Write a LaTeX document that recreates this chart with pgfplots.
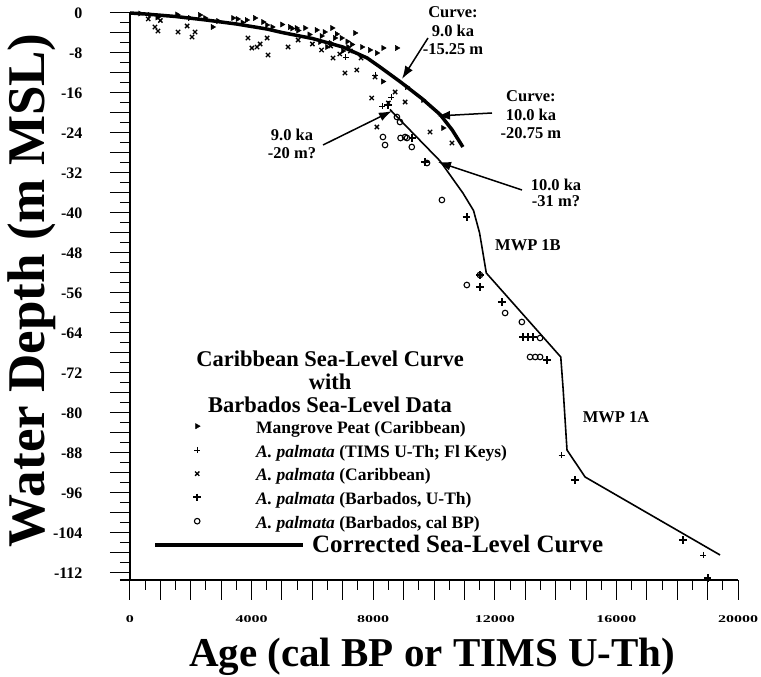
\documentclass[border=0pt]{standalone}
\usepackage{fontspec}
\setmainfont{Liberation Serif}
\usepackage{graphicx}
\usepackage{pgfplots}
\pgfplotsset{compat=1.18}
\usetikzlibrary{arrows.meta}
\newcommand\xt[1]{\scalebox{1}[0.65]{#1}}
\newcommand\ann{\bfseries\fontsize{16.5}{18.5}\selectfont}
\begin{document}
\begin{tikzpicture}
\begin{axis}[
 scale only axis, width=608pt, height=567pt,
 xmin=0, xmax=20000, ymin=-113.4, ymax=0,
 axis x line=bottom, axis y line=left,
 x axis line style={-, line width=1.2pt, shorten <=-10pt},
 y axis line style={-, line width=1.2pt},
 tick align=outside,
 major tick length=20pt, minor tick length=10pt,
 tick style={black, line width=1pt},
 xtick={0,1000,...,20000},
 xticklabels={\xt{0},,,,\xt{4000},,,,\xt{8000},,,,\xt{12000},,,,\xt{16000},,,,\xt{20000}},
 minor x tick num=1,
 ytick={-112,-108,...,0},
 yticklabels={-112,,-104,,-96,,-88,,-80,,-72,,-64,,-56,,-48,,-40,,-32,,-24,,-16,,-8,,0},
 minor y tick num=1,
 xticklabel style={font=\bfseries\fontsize{16}{16}\selectfont, yshift=-12pt},
 yticklabel style={font=\bfseries\fontsize{16}{16}\selectfont, anchor=east, xshift=-24pt},
 scaled x ticks=false,
 clip=false,
 xlabel={Age (cal BP or TIMS U-Th)},
 xlabel style={at={(axis description cs:0.497,-0.136)}, anchor=center, font=\bfseries\fontsize{41}{41}\selectfont},
 ylabel={Water Depth (m MSL)},
 ylabel style={at={(axis description cs:-0.161,0.511)}, anchor=center, font=\bfseries\fontsize{53}{53}\selectfont},
 legend cell align=left,
 legend style={at={(rel axis cs:0.0411,0.2875)}, anchor=north west, draw=none, fill=none,
   inner sep=0pt, row sep=0pt,
   nodes={inner sep=0pt, text height=16pt, text depth=7.5pt},
   font=\bfseries\fontsize{17.5}{17.5}\selectfont},
]
\pgfplotsset{mk/.style={legend image code/.code={\draw[##1] plot coordinates {(0pt,3pt)}; \path[draw=none,fill=none] (-42pt,0pt) rectangle (59pt,12pt);}}}
% Mangrove peat
\addplot[only marks, mk, mark=triangle*, mark size=3pt, mark options={rotate=-90, fill=black}] coordinates {
(330,-0.1) (650,-0.4) (900,-0.9) (1550,-0.3) (1970,-1.0) (2300,-0.4) (2470,-1.0) (2720,-2.8) (2900,-1.6)
(3390,-1.0) (3540,-1.2) (3700,-1.9) (3840,-1.4) (4110,-1.0) (4380,-1.8) (4500,-2.4) (4680,-2.8) (5000,-2.3)
(5260,-2.8) (5330,-3.1) (5480,-3.0) (5530,-3.5) (5760,-3.0) (5900,-4.3) (6140,-3.4) (6250,-5.8) (6300,-4.6)
(6400,-3.8) (6480,-6.8) (6650,-3.0) (6740,-5.0) (6800,-4.2) (6960,-5.0) (7150,-5.7) (7170,-6.8) (7300,-6.3)
(7400,-4.0) (7630,-6.8) (7890,-7.4) (8120,-8.0) (8330,-7.0) (8780,-7.0) (8320,-13.7) (9110,-14.8) (9640,-17.4)
(10300,-23.0) (7000,-7.6) (6600,-6.0)
};
\addlegendentry{Mangrove Peat (Caribbean)}
% TIMS U-Th Fl Keys
\addplot[only marks, mk, mark=+, mark size=3pt, line width=0.8pt] coordinates {
(7100,-8.8) (8060,-12.4) (8600,-16.8) (8300,-18.6) (14200,-88.4) (18850,-108.4)
};
\addlegendentry{\textit{A. palmata} (TIMS U-Th; Fl Keys)}
% Caribbean A. palmata
\addplot[only marks, mk, mark=x, mark size=3pt, line width=1.3pt] coordinates {
(820,-2.8) (920,-3.6) (1580,-3.8) (1880,-2.6) (2040,-4.8) (2140,-3.8) (3880,-5.0) (4010,-7.0) (4180,-6.8)
(4280,-6.2) (4510,-5.0) (4540,-8.4) (5200,-6.8) (5530,-5.4) (6000,-6.2) (6300,-7.4) (6600,-6.6) (6680,-9.0)
(6900,-8.2) (7070,-12.0) (7250,-7.6) (7460,-11.4) (7600,-9.0) (8060,-12.8) (7950,-17.0) (8120,-22.8)
(8720,-15.8) (9050,-17.8) (8500,-18.0) (9870,-23.8) (10590,-26.0) (600,-1.2) (1000,-1.5)
};
\addlegendentry{\textit{A. palmata} (Caribbean)}
% Barbados U-Th
\addplot[only marks, mk, mark=+, mark size=3.8pt, line width=2pt] coordinates {
(8490,-18.4) (9290,-25.0) (9700,-29.8) (11070,-40.8) (11510,-52.4) (11510,-54.8) (12230,-57.8)
(12930,-64.8) (13100,-64.8) (13260,-64.8) (13720,-69.4) (14640,-93.4) (18200,-105.4) (19000,-113.0)
};
\addlegendentry{\textit{A. palmata} (Barbados, U-Th)}
% Barbados cal BP
\addplot[only marks, mk, mark=o, mark size=2.8pt, line width=1.1pt] coordinates {
(8320,-24.8) (8390,-26.4) (8780,-20.8) (8880,-21.8) (8900,-25.0) (9110,-25.0) (9270,-26.8) (9770,-30.0)
(10260,-37.4) (11080,-54.4) (11510,-52.4) (12340,-60.0) (12890,-61.8) (13490,-65.0) (13160,-68.8)
(13330,-68.8) (13490,-68.8) (9050,-24.8)
};
\addlegendentry{\textit{A. palmata} (Barbados, cal BP)}
% Corrected (thick) curve
\addplot[black, line width=3.5pt, legend image code/.code={\draw[line width=4.5pt, overlay] (-42pt,3pt) -- (106pt,3pt); \path[draw=none,fill=none] (-42pt,0pt) rectangle (59pt,12pt);}] coordinates {
(0,0) (500,-0.2) (1500,-0.7) (2500,-1.4) (3500,-2.2) (4500,-3.2) (5000,-3.9) (6000,-5.1) (7000,-6.8)
(7800,-9.0) (8200,-10.7) (8900,-13.8) (9600,-17.1) (10200,-20.3) (10600,-23.4) (10950,-26.8)
};
\addlegendentry{\hspace*{56pt}\fontsize{25}{25}\selectfont Corrected Sea-Level Curve}
% lower curve
\addplot[black, line width=1.6pt, forget plot] coordinates {
(8550,-19.3) (10200,-29.6) (10950,-36.0) (11300,-39.5) (11500,-44.0) (11720,-52.0) (14170,-68.8)
(14250,-75.4) (14375,-87.4) (14970,-92.8) (19410,-108.4)
};
\coordinate (ll) at (rel axis cs:0,0);
\coordinate (ur) at (rel axis cs:1,1);
% legend title
\node[align=center, font=\bfseries\fontsize{22.5}{23}\selectfont] at (rel axis cs:0.329,0.349)
  {Caribbean Sea-Level Curve\\with\\Barbados Sea-Level Data};
% annotations
\node[align=center, font=\ann] at (axis cs:10625,-3.6) {Curve:\\9.0 ka\\-15.25 m};
\draw[line width=1.5pt, -{Latex[length=13pt,width=9pt]}] (axis cs:9803,-5) -- (axis cs:8947,-13.2);
\node[align=center, font=\ann] at (axis cs:13190,-20.4) {Curve:\\10.0 ka\\-20.75 m};
\draw[line width=1.5pt, -{Latex[length=13pt,width=9pt]}] (axis cs:11908,-20) -- (axis cs:10099,-20.6);
\node[align=center, font=\ann] at (axis cs:5329,-26.2) {9.0 ka\\-20 m?};
\draw[line width=1.5pt, -{Latex[length=13pt,width=9pt]}] (axis cs:6349,-26.4) -- (axis cs:8618,-19.6);
\node[align=center, font=\bfseries\fontsize{16.5}{15.5}\selectfont] at (axis cs:14013,-36) {10.0 ka\\-31 m?};
\draw[line width=1.5pt, -{Latex[length=13pt,width=9pt]}] (axis cs:12895,-35.4) -- (axis cs:10132,-29.8);
\node[font=\ann] at (axis cs:13092,-46.4) {MWP 1B};
\node[font=\ann] at (axis cs:15987,-80.8) {MWP 1A};
\end{axis}
\pgfresetboundingbox
\path ([shift={(-130pt,-97pt)}]ll) rectangle ([shift={(23pt,13pt)}]ur);
\end{tikzpicture}
\end{document}
